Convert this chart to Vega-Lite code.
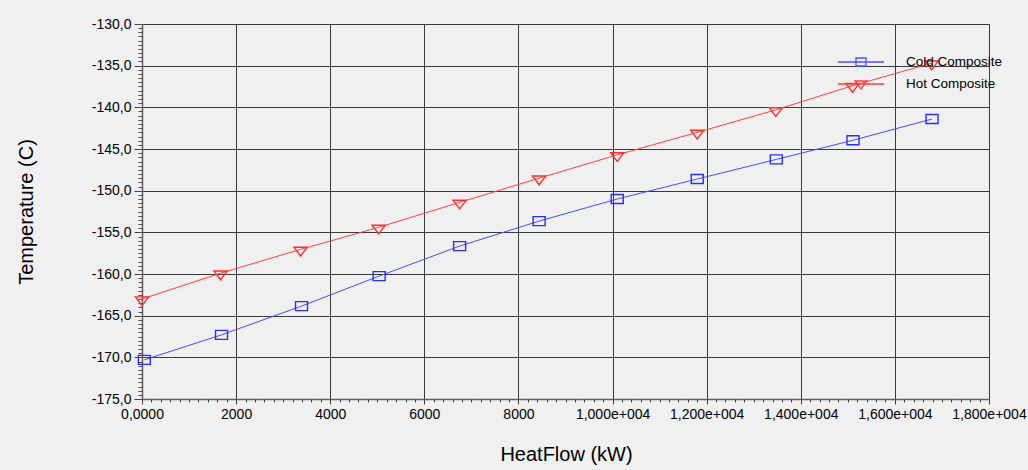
{
  "$schema": "https://vega.github.io/schema/vega-lite/v6.json",
  "autosize": {"type": "none"},
  "padding": {"left": 142, "top": 24, "right": 39, "bottom": 71},
  "width": 847,
  "height": 375,
  "background": "#f0f0f0",
  "config": {
    "view": {"stroke": null},
    "font": "Liberation Sans",
    "locale": {"number": {"decimal": ",", "thousands": ".", "grouping": [3], "currency": ["", ""], "minus": "-"}}
  },
  "data": {
    "values": [
      {"series": "Cold Composite", "heatflow": 50, "temp": -170.3},
      {"series": "Cold Composite", "heatflow": 1690, "temp": -167.3},
      {"series": "Cold Composite", "heatflow": 3390, "temp": -163.85},
      {"series": "Cold Composite", "heatflow": 5040, "temp": -160.25},
      {"series": "Cold Composite", "heatflow": 6750, "temp": -156.65},
      {"series": "Cold Composite", "heatflow": 8440, "temp": -153.65},
      {"series": "Cold Composite", "heatflow": 10100, "temp": -151.0},
      {"series": "Cold Composite", "heatflow": 11800, "temp": -148.6},
      {"series": "Cold Composite", "heatflow": 13480, "temp": -146.25},
      {"series": "Cold Composite", "heatflow": 15110, "temp": -143.95},
      {"series": "Cold Composite", "heatflow": 16790, "temp": -141.4},
      {"series": "Hot Composite", "heatflow": 0, "temp": -163.0},
      {"series": "Hot Composite", "heatflow": 1670, "temp": -159.9},
      {"series": "Hot Composite", "heatflow": 3370, "temp": -157.05},
      {"series": "Hot Composite", "heatflow": 5030, "temp": -154.4},
      {"series": "Hot Composite", "heatflow": 6750, "temp": -151.4},
      {"series": "Hot Composite", "heatflow": 8440, "temp": -148.5},
      {"series": "Hot Composite", "heatflow": 10100, "temp": -145.7},
      {"series": "Hot Composite", "heatflow": 11800, "temp": -143.0},
      {"series": "Hot Composite", "heatflow": 13470, "temp": -140.3},
      {"series": "Hot Composite", "heatflow": 15100, "temp": -137.4},
      {"series": "Hot Composite", "heatflow": 16780, "temp": -134.7}
    ]
  },
  "layer": [
    {
      "transform": [{"filter": "datum.series == 'Cold Composite'"}],
      "mark": {"type": "line", "strokeWidth": 1, "color": "#4a4aff"},
      "encoding": {
        "x": {
          "field": "heatflow", "type": "quantitative",
          "scale": {"domain": [0, 18000], "nice": false, "zero": false},
          "axis": {
            "orient": "bottom",
            "title": "HeatFlow (kW)",
            "titleFont": "Liberation Sans", "titleFontSize": 20, "titleFontWeight": "normal", "titleColor": "black",
            "titleX": 424, "titleY": 61, "titleAlign": "center", "titleBaseline": "alphabetic",
            "values": [0, 2000, 4000, 6000, 8000, 10000, 12000, 14000, 16000, 18000],
            "labelExpr": "datum.value == 0 ? '0,0000' : (datum.value < 10000 ? format(datum.value, 'd') : format(datum.value / 10000, '.3f') + 'e+004')",
            "labelFont": "Liberation Sans", "labelFontSize": 14, "labelColor": "black",
            "labelPadding": 3, "labelFlush": false, "labelOverlap": false,
            "tickSize": 5, "tickColor": "#404040",
            "domainColor": "#606060", "domainWidth": 1.5,
            "grid": true, "gridColor": "#3a3a3a", "gridWidth": 1
          }
        },
        "y": {
          "field": "temp", "type": "quantitative",
          "scale": {"domain": [-175, -130], "nice": false, "zero": false},
          "axis": {
            "orient": "left",
            "title": "Temperature (C)",
            "titleFont": "Liberation Sans", "titleFontSize": 20, "titleFontWeight": "normal", "titleColor": "black",
            "titleAngle": -90, "titleX": -116, "titleY": 187.5, "titleAlign": "center", "titleBaseline": "middle",
            "values": [-175, -170, -165, -160, -155, -150, -145, -140, -135, -130],
            "format": ".1f",
            "labelFont": "Liberation Sans", "labelFontSize": 14, "labelColor": "black",
            "labelPadding": 3, "labelFlush": false, "labelOverlap": false,
            "tickSize": 8, "tickColor": "#404040",
            "domainColor": "#606060", "domainWidth": 1.5,
            "grid": true, "gridColor": "#3a3a3a", "gridWidth": 1
          }
        }
      }
    },
    {
      "transform": [{"filter": "datum.series == 'Hot Composite'"}],
      "mark": {"type": "line", "strokeWidth": 1, "color": "#ff4040"},
      "encoding": {
        "x": {"field": "heatflow", "type": "quantitative", "axis": null},
        "y": {"field": "temp", "type": "quantitative", "axis": null}
      }
    },
    {
      "transform": [{"filter": "datum.series == 'Cold Composite'"}],
      "mark": {"type": "point", "filled": false, "size": 144, "strokeWidth": 1.4, "opacity": 1, "color": "#2c2cff", "shape": "M-1,-0.75H1V0.75H-1Z"},
      "encoding": {
        "x": {"field": "heatflow", "type": "quantitative", "axis": null},
        "y": {"field": "temp", "type": "quantitative", "axis": null}
      }
    },
    {
      "transform": [{"filter": "datum.series == 'Hot Composite'"}],
      "mark": {"type": "point", "filled": false, "size": 144, "strokeWidth": 1.4, "opacity": 1, "color": "#ff2c2c", "shape": "M-1.1,-0.35H1.1L0,1.1Z"},
      "encoding": {
        "x": {"field": "heatflow", "type": "quantitative", "axis": null},
        "y": {"field": "temp", "type": "quantitative", "axis": null}
      }
    },
    {
      "mark": {"type": "point", "filled": false, "size": 400, "strokeWidth": 1.3, "strokeOpacity": 0},
      "encoding": {
        "x": {"field": "heatflow", "type": "quantitative", "axis": null},
        "y": {"field": "temp", "type": "quantitative", "axis": null},
        "color": {
          "field": "series", "type": "nominal",
          "scale": {"domain": ["Cold Composite", "Hot Composite"], "range": ["#5050ff", "#ff3b3b"]},
          "legend": {
            "orient": "none", "legendX": 708, "legendY": 27,
            "title": null, "padding": 0, "rowPadding": 4,
            "symbolSize": 400, "symbolStrokeWidth": 1.3, "symbolOpacity": 1, "labelOffset": 34,
            "labelFont": "Liberation Sans", "labelFontSize": 13.5, "labelColor": "black",
            "encode": {"symbols": {"update": {"strokeOpacity": {"value": 1}, "opacity": {"value": 1}}}}
          }
        },
        "shape": {
          "field": "series", "type": "nominal",
          "scale": {"domain": ["Cold Composite", "Hot Composite"], "range": ["M-2.3,0H2.3M-0.5,-0.4H0.5V0.4H-0.5Z", "M-2.3,0H2.3M-0.6,-0.3H0.6L0,0.5Z"]}
        }
      }
    },
    {
      "mark": {"type": "point", "opacity": 0},
      "encoding": {
        "x": {
          "field": "heatflow", "type": "quantitative",
          "axis": {"orient": "top", "offset": -375, "title": null, "labels": false, "grid": false, "domain": false, "tickCount": 90, "tickSize": -3, "tickColor": "#404040"}
        },
        "y": {
          "field": "temp", "type": "quantitative",
          "axis": {"orient": "right", "offset": -847, "title": null, "labels": false, "grid": false, "domain": false, "tickCount": 90, "tickSize": -4, "tickColor": "#505050"}
        }
      }
    }
  ],
  "resolve": {"axis": {"x": "independent", "y": "independent"}}
}
